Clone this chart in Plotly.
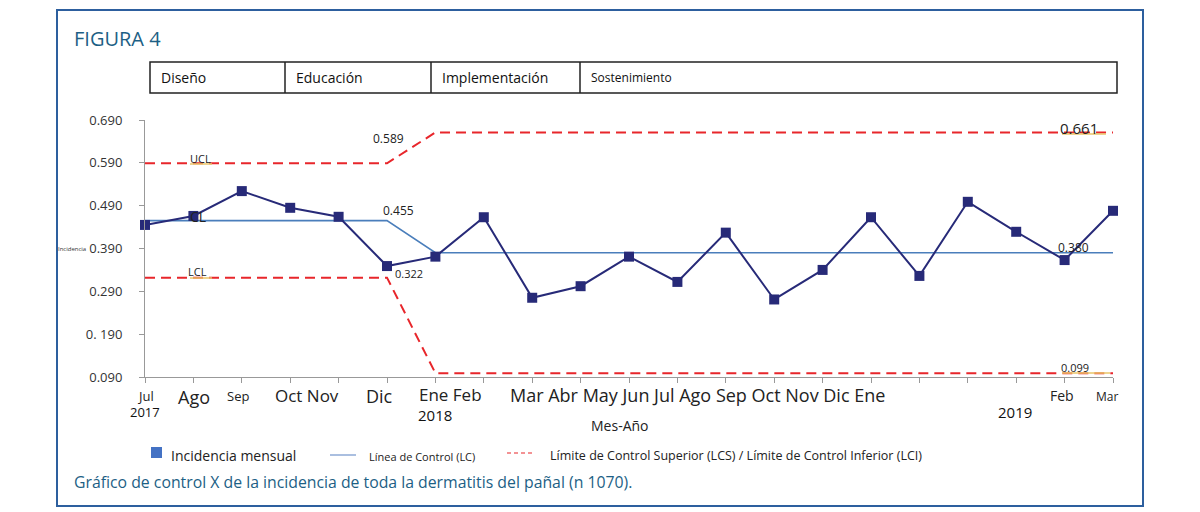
import plotly.graph_objects as go

# ---------------- data ----------------
months_idx = list(range(21))  # Jul 2017 .. Mar 2019
incidence = [0.445, 0.466, 0.524, 0.485, 0.464, 0.349, 0.371, 0.463, 0.275, 0.302,
             0.371, 0.312, 0.427, 0.271, 0.340, 0.463, 0.326, 0.499, 0.429, 0.363, 0.478]
ucl = [0.589, 0.589, 0.589, 0.589, 0.589, 0.589, 0.661, 0.661, 0.661, 0.661, 0.661,
       0.661, 0.661, 0.661, 0.661, 0.661, 0.661, 0.661, 0.661, 0.661, 0.661]
cl = [0.455, 0.455, 0.455, 0.455, 0.455, 0.455, 0.380, 0.380, 0.380, 0.380, 0.380,
      0.380, 0.380, 0.380, 0.380, 0.380, 0.380, 0.380, 0.380, 0.380, 0.380]
lcl = [0.322, 0.322, 0.322, 0.322, 0.322, 0.322, 0.099, 0.099, 0.099, 0.099, 0.099,
       0.099, 0.099, 0.099, 0.099, 0.099, 0.099, 0.099, 0.099, 0.099, 0.099]
y_ticks = [0.09, 0.19, 0.29, 0.39, 0.49, 0.59, 0.69]
y_ticktext = ["0.090", "0. 190", "0.290", "0.390", "0.490", "0.590", "0.690"]
month_labels = ["Jul", "Ago", "Sep", "Oct Nov", "Dic", "Ene Feb",
                "Mar Abr May Jun Jul Ago Sep Oct Nov Dic Ene", "Feb", "Mar"]
year_labels = ["2017", "2018", "2019"]
phases = ["Diseño", "Educación", "Implementación", "Sostenimiento"]
legend_labels = ["Incidencia mensual", "Línea de Control (LC)",
                 "Límite de Control Superior (LCS) / Límite de Control Inferior (LCI)"]
title_text = "FIGURA 4"
caption_text = "Gráfico de control X de la incidencia de toda la dermatitis del pañal (n 1070)."
x_title = "Mes-Año"

# ---------------- geometry helpers (pixel -> paper) ----------------
W, H = 1200, 512
L, R, T, B = 145, 1113, 120, 377


def PX(x):
    return (x - L) / (R - L)


def PY(y):
    return (B - y) / (B - T)


FONT = "Open Sans"
RED = "#e8262b"
NAVY = "#272a78"
CLBLUE = "#4a7ebb"
TEAL = "#1d5f85"

fig = go.Figure()
fig.add_trace(go.Scatter(x=months_idx, y=ucl, mode="lines",
                         line=dict(color=RED, width=2, dash="10px,6px"),
                         cliponaxis=False, showlegend=False))
fig.add_trace(go.Scatter(x=months_idx, y=lcl, mode="lines",
                         line=dict(color=RED, width=2, dash="10px,6px"),
                         cliponaxis=False, showlegend=False))
fig.add_trace(go.Scatter(x=months_idx, y=cl, mode="lines",
                         line=dict(color=CLBLUE, width=1.6),
                         cliponaxis=False, showlegend=False))
fig.add_trace(go.Scatter(x=months_idx, y=incidence, mode="lines+markers",
                         line=dict(color=NAVY, width=2),
                         marker=dict(symbol="square", size=10, color=NAVY),
                         cliponaxis=False, showlegend=False))

shapes = []
ann = []

# outer border
shapes.append(dict(type="rect", xref="paper", yref="paper",
                   x0=PX(57), x1=PX(1143), y0=PY(10), y1=PY(506),
                   line=dict(color="#2d5f9e", width=2)))
# phase table
shapes.append(dict(type="rect", xref="paper", yref="paper",
                   x0=PX(150), x1=PX(1117), y0=PY(62), y1=PY(93),
                   line=dict(color="#222", width=1.5)))
phase_x = [150, 285, 431, 580]
phase_sizes = [14, 14, 14, 12]
for i, (p, px) in enumerate(zip(phases, phase_x)):
    if i > 0:
        shapes.append(dict(type="line", xref="paper", yref="paper",
                           x0=PX(px), x1=PX(px), y0=PY(62), y1=PY(93),
                           line=dict(color="#222", width=1.5)))
    ann.append(dict(text=p, xref="paper", yref="paper", x=PX(px + 9), y=PY(78),
                    xanchor="left", yanchor="middle", showarrow=False,
                    font=dict(family=FONT, size=phase_sizes[i], color="#111")))

# title + caption
ann.append(dict(text=title_text, xref="paper", yref="paper", x=PX(72), y=PY(38),
                xanchor="left", yanchor="middle", showarrow=False,
                font=dict(family=FONT, size=20, color=TEAL)))
ann.append(dict(text=caption_text, xref="paper", yref="paper", x=PX(72), y=PY(482),
                xanchor="left", yanchor="middle", showarrow=False,
                font=dict(family=FONT, size=15.8, color=TEAL)))

# month labels
month_pos = [(145, 396, 13), (194, 397, 18), (238, 396, 13), (307, 395, 17),
             (379, 396, 18), (450, 394, 17), (697, 395, 18), (1062, 395, 14),
             (1107, 396, 12)]
for txt, (x, y, s) in zip(month_labels, month_pos):
    ann.append(dict(text=txt, xref="paper", yref="paper", x=PX(x), y=PY(y),
                    xanchor="center", yanchor="middle", showarrow=False,
                    font=dict(family=FONT, size=s, color="#222")))
year_pos = [(145, 412, 13), (435, 415, 15), (1015, 412, 15)]
for txt, (x, y, s) in zip(year_labels, year_pos):
    ann.append(dict(text=txt, xref="paper", yref="paper", x=PX(x), y=PY(y),
                    xanchor="center", yanchor="middle", showarrow=False,
                    font=dict(family=FONT, size=s, color="#111")))
ann.append(dict(text=x_title, xref="paper", yref="paper", x=PX(620), y=PY(425),
                xanchor="center", yanchor="middle", showarrow=False,
                font=dict(family=FONT, size=14, color="#222")))

# y-axis small title
ann.append(dict(text="Incidencia", xref="paper", yref="paper", x=PX(88), y=PY(249),
                xanchor="right", yanchor="middle", showarrow=False,
                font=dict(family=FONT, size=6, color="#333")))

# line labels
line_labels = [("UCL", 200, 158, 11), ("CL", 198, 216, 14), ("LCL", 197, 271, 11),
               (f"{ucl[5]:.3f}", 388, 138, 12), (f"{cl[5]:.3f}", 398, 210, 12),
               (f"{lcl[5]:.3f}", 409, 273, 11), (f"{ucl[-1]:.3f}", 1079, 128, 15),
               (f"{cl[-1]:.3f}", 1073, 247, 12), (f"{lcl[-1]:.3f}", 1075, 367, 11)]
for txt, x, y, s in line_labels:
    ann.append(dict(text=txt, xref="paper", yref="paper", x=PX(x), y=PY(y),
                    xanchor="center", yanchor="middle", showarrow=False,
                    font=dict(family=FONT, size=s, color="#222")))
# faint yellow underline marks
for x0, x1, y in [(190, 212, 164), (190, 212, 278), (1062, 1106, 134), (1062, 1110, 373)]:
    shapes.append(dict(type="line", xref="paper", yref="paper",
                       x0=PX(x0), x1=PX(x1), y0=PY(y), y1=PY(y),
                       line=dict(color="#e9c66a", width=1.5)))

# legend
shapes.append(dict(type="rect", xref="paper", yref="paper",
                   x0=PX(151), x1=PX(162), y0=PY(447), y1=PY(458),
                   line=dict(width=0), fillcolor="#4472c4"))
shapes.append(dict(type="line", xref="paper", yref="paper",
                   x0=PX(330), x1=PX(356), y0=PY(455), y1=PY(455),
                   line=dict(color="#8eaad6", width=1.5)))
shapes.append(dict(type="line", xref="paper", yref="paper",
                   x0=PX(507), x1=PX(533), y0=PY(453), y1=PY(453),
                   line=dict(color=RED, width=1.2, dash="4px,3px")))
leg_pos = [(169, 455, 14), (367, 456, 11), (548, 455, 12.5)]
for txt, (x, y, s) in zip(legend_labels, leg_pos):
    ann.append(dict(text=txt, xref="paper", yref="paper", x=PX(x), y=PY(y),
                    xanchor="left", yanchor="middle", showarrow=False,
                    font=dict(family=FONT, size=s, color="#222")))

fig.update_layout(
    width=W, height=H,
    margin=dict(l=L, r=W - R, t=T, b=H - B, pad=0),
    paper_bgcolor="white", plot_bgcolor="white",
    shapes=shapes, annotations=ann,
    font=dict(family=FONT),
    xaxis=dict(range=[0, 20], tickvals=months_idx, ticktext=[""] * 21,
               ticks="outside", ticklen=5, tickcolor="#999", showline=True,
               linecolor="#999", linewidth=1, showgrid=False, zeroline=False,
               fixedrange=True),
    yaxis=dict(range=[0.09, 0.69], tickvals=y_ticks, ticktext=y_ticktext,
               ticks="outside", ticklen=5, tickcolor="#999", showline=True,
               linecolor="#999", linewidth=1, showgrid=False, zeroline=False,
               tickfont=dict(family=FONT, size=13, color="#333"),
               ticklabelstandoff=14, fixedrange=True),
)

fig.write_html("out.html",
               config={"displayModeBar": False},
               post_script="document.body.style.margin='0';"
                           "document.body.style.overflow='hidden';")
